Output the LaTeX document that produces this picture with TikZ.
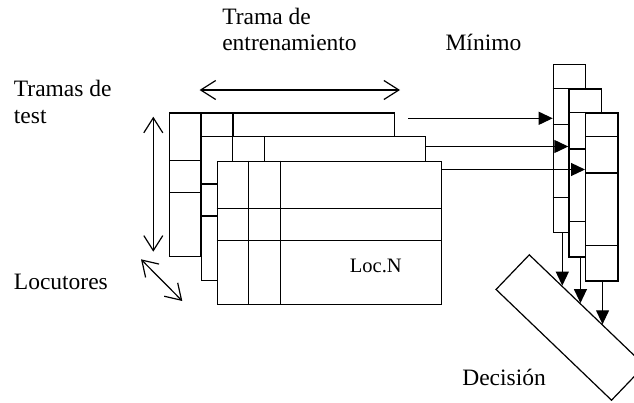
\documentclass[tikz,border=0pt]{standalone}
\usepackage{fontspec}
\setmainfont{Liberation Serif}
\usetikzlibrary{arrows.meta,calc}
\begin{document}
\begin{tikzpicture}[x=1pt,y=-1pt, line width=1.2pt,
  layer/.style={draw, fill=white, minimum width=224.5pt, minimum height=143.5pt, inner sep=0pt, anchor=north west},
  colbox/.style={draw, fill=white, minimum width=32.4pt, minimum height=168pt, inner sep=0pt, anchor=north west},
  decbox/.style={draw, fill=white, minimum width=160pt, minimum height=48pt, inner sep=0pt, rotate=-43.8},
  lbl/.style={inner sep=0pt, anchor=base west, align=left, font=\fontsize{23.5pt}{26.7pt}\selectfont},
  arr/.style={-{Triangle[length=14pt,width=13pt]}},
  dbl/.style={{Straight Barb[length=15pt,width=19pt]}-{Straight Barb[length=15pt,width=19pt]}}
]
\useasboundingbox (0,0) rectangle (634,402);
\clip (0,0) rectangle (634,402);

% text labels (base anchor = baseline of the last line)
\node[lbl] (tt) at (221.7,50.7) {Trama de\\entrenamiento};
\node[lbl] (min) at (445,50) {Mínimo};
\node[lbl] (tr) at (13.3,123.3) {Tramas de\\test};
\node[lbl] (loc) at (13.3,289.3) {Locutores};
\node[lbl] (decl) at (461.7,385) {Decisión};

% layers (back to front)
\foreach \n/\x/\y in {L1/169/112.3, L2/200.7/136, L3/216.7/160.5} {
  \node[layer] (\n) at (\x,\y) {};
  \draw ($(\n.north west)+(32,0)$) -- ($(\n.south west)+(32,0)$);
  \draw ($(\n.north west)+(64,0)$) -- ($(\n.south west)+(64,0)$);
  \draw ($(\n.north west)+(0,48)$) -- ($(\n.north east)+(0,48)$);
  \draw ($(\n.north west)+(0,80)$) -- ($(\n.north east)+(0,80)$);
}
\node[inner sep=0pt, anchor=base west, font=\fontsize{20.5pt}{24pt}\selectfont] (locn) at (349.3,272.3) {Loc.N};

% columns (back to front)
\foreach \n/\x/\y in {C1/552.7/64, C2/568.3/88.3, C3/585/112.3} {
  \node[colbox] (\n) at (\x,\y) {};
  \foreach \d in {24.3,60.7,133.5} {
    \draw ($(\n.north west)+(0,\d)$) -- ($(\n.north east)+(0,\d)$);
  }
}

% decision box
\node[decbox] (D) at (570.4,327.5) {};

% double arrows
\coordinate (h1) at (199.6,90);
\coordinate (h2) at (400,90);
\draw[dbl] (h1) -- (h2);
\coordinate (v1) at (153.3,116.7);
\coordinate (v2) at (153.3,251.7);
\draw[dbl] (v1) -- (v2);
\coordinate (d1) at (141,259.3);
\coordinate (d2) at (182.3,301);
\draw[dbl] (d1) -- (d2);

% arrows to columns
\coordinate (a1) at (408,118.3);
\draw[arr] (a1) -- (a1 -| C1.west);
\coordinate (a2) at ($(L2.north east)+(0,10.5)$);
\draw[arr] (a2) -- (a2 -| C2.west);
\coordinate (a3) at ($(L3.north east)+(0,9)$);
\draw[arr] (a3) -- (a3 -| C3.west);

% arrows to decision
\coordinate (t1) at ($(D.north west)!0.284!(D.north east)$);
\coordinate (t2) at ($(D.north west)!0.44!(D.north east)$);
\coordinate (t3) at ($(D.north west)!0.63!(D.north east)$);
\draw[arr] (t1 |- C1.south) -- (t1);
\draw[arr] (t2 |- C2.south) -- (t2);
\draw[arr] (t3 |- C3.south) -- (t3);
\end{tikzpicture}
\end{document}
